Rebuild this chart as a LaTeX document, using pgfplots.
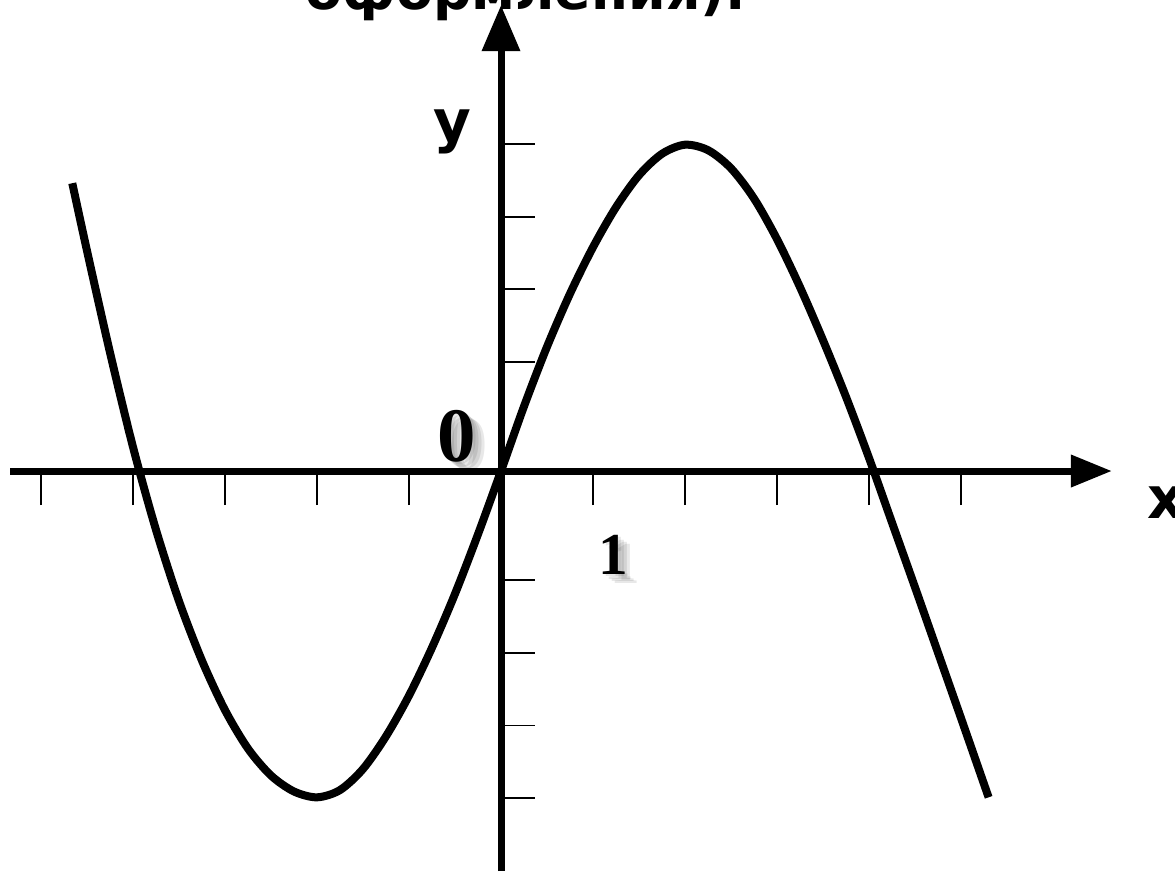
\documentclass[border=0pt]{standalone}
\usepackage{fontspec}
\setmainfont{DejaVu Sans}
\newfontfamily\numfont{Liberation Serif}
\usepackage{graphicx}
\usepackage{pgfplots}
\pgfplotsset{compat=1.18}
\usetikzlibrary{arrows.meta}

\tikzset{
    zero/.style={inner sep=0, font=\numfont\bfseries\fontsize{21.9}{24}\selectfont},
    one/.style={inner sep=0, font=\numfont\bfseries\fontsize{16.9}{19}\selectfont},
    glow/.style={text=black, text opacity=0.09},
}

\begin{document}
\begin{tikzpicture}
\begin{axis}[
    name=ax,
    x=9.2mm, y=7.267mm,
    xmin=-5.337, xmax=6.64,
    ymin=-5.504, ymax=6.41,
    axis lines=middle,
    axis line style={line width=0.7mm, black},
    x axis line style={-{Triangle[length=4.1mm,width=3.1mm]}},
    y axis line style={-{Triangle[length=4.6mm,width=3.7mm]}},
    xtick={-5,-4,-3,-2,-1,1,2,3,4,5},
    ytick={-4.5,-3.5,-2.5,-1.5,1.5,2.5,3.5,4.5},
    xticklabels={}, yticklabels={},
    xtick align=outside, ytick align=inside,
    major tick length=3.4mm,
    tick style={line width=0.17mm, black},
    clip=false,
]
% curve (x: 1 unit per tick, y: ticks at +-1.5 ... +-4.5)
\addplot[black, line width=0.8mm, smooth] coordinates {
    (-4.66,3.96) (-4.5,3.03) (-4.25,1.63) (-4.0,0.33) (-3.75,-0.81)
    (-3.5,-1.79) (-3.25,-2.61) (-3.0,-3.29) (-2.75,-3.82) (-2.5,-4.19)
    (-2.25,-4.41) (-2.0,-4.49) (-1.75,-4.39) (-1.5,-4.10) (-1.25,-3.65)
    (-1.0,-3.09) (-0.75,-2.43) (-0.5,-1.69) (-0.25,-0.87) (0,0)
    (0.25,0.89) (0.5,1.71) (0.75,2.44) (1.0,3.08) (1.25,3.63)
    (1.5,4.07) (1.75,4.365) (2.0,4.49) (2.25,4.415) (2.5,4.165)
    (2.75,3.75) (3.0,3.19) (3.25,2.53) (3.5,1.80) (3.75,1.02)
    (4.0,0.18) (4.25,-0.71) (4.5,-1.60) (4.75,-2.50) (5.0,-3.40)
    (5.3,-4.49)
};
% labels
\node[anchor=base west, inner sep=0, font=\bfseries\fontsize{15.5}{17}\selectfont]
    at (axis cs:-2.13,6.344) {\resizebox{44mm}{\height}{оформления).}};
\node[anchor=base, inner sep=0, font=\bfseries\fontsize{16.5}{18}\selectfont]
    at (axis cs:-0.533,4.541) {y};
\node[anchor=base west, inner sep=0, font=\bfseries\fontsize{16.5}{18}\selectfont]
    at (axis cs:7.02,-0.66) {x};
\node[zero, glow, xshift=0.3mm, yshift=-0.2mm] at (axis cs:-0.484,0.482) {0};
\node[zero, glow, xshift=0.6mm, yshift=-0.5mm] at (axis cs:-0.484,0.482) {0};
\node[zero, glow, xshift=0.9mm, yshift=-0.7mm] at (axis cs:-0.484,0.482) {0};
\node[zero, glow, xshift=1.2mm, yshift=-0.9mm] at (axis cs:-0.484,0.482) {0};
\node[zero] at (axis cs:-0.484,0.482) {0};
\node[one, glow, xshift=0.3mm, yshift=-0.2mm] at (axis cs:1.217,-1.156) {1};
\node[one, glow, xshift=0.6mm, yshift=-0.5mm] at (axis cs:1.217,-1.156) {1};
\node[one, glow, xshift=0.9mm, yshift=-0.7mm] at (axis cs:1.217,-1.156) {1};
\node[one, glow, xshift=1.2mm, yshift=-0.9mm] at (axis cs:1.217,-1.156) {1};
\node[one] at (axis cs:1.217,-1.156) {1};
\end{axis}
\pgfresetboundingbox
\useasboundingbox ([xshift=-1mm]ax.south west) rectangle ++(117.5mm,87.1mm);
\end{tikzpicture}
\end{document}
